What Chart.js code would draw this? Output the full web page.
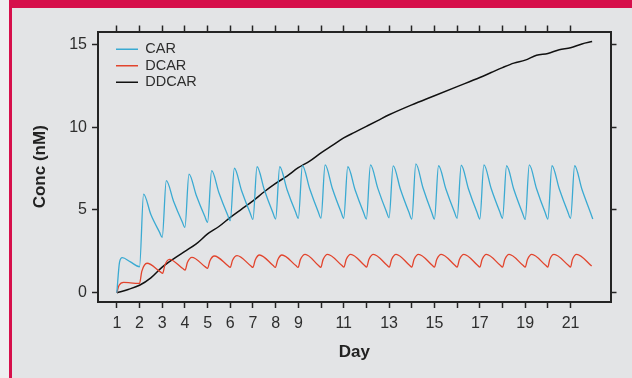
<!DOCTYPE html>
<html>
<head>
<meta charset="utf-8">
<script src="https://cdn.jsdelivr.net/npm/chart.js@4.4.0/dist/chart.umd.min.js"></script>
<style>
    body { margin: 0; background: #f1f1f2; }
    #panel { position: absolute; left: 0; top: 0; width: 632px; height: 378px; background: #e3e4e6; overflow: hidden; }
    #bordeBlanco { position: absolute; left: 0; top: 0; width: 9px; height: 378px; background: #eeeef0; }
    #bordeIzq { position: absolute; left: 9px; top: 0; width: 3px; height: 378px; background: #d60f4b; }
    #bandaSup { position: absolute; left: 9px; top: 0; width: 623px; height: 8px; background: #d60f4b; }
    #contenedor { position: absolute; left: 0; top: 0; width: 632px; height: 378px; }
</style>
</head>
<body>
<div id="panel">
    <div id="bordeBlanco"></div>
    <div id="bordeIzq"></div>
    <div id="bandaSup"></div>
    <div id="contenedor"><canvas id="miGrafico"></canvas></div>
</div>
<script>
// Datos
const diasCAR = [1, 1.12, 1.24, 1.6, 2,
    2.18, 2.5, 2.88, 3, 3.18, 3.5, 3.88, 4, 4.18, 4.5, 4.88, 5,
    5.18, 5.5, 5.88, 6, 6.18, 6.5, 6.88, 7, 7.18, 7.5, 7.88, 8,
    8.18, 8.5, 8.88, 9, 9.18, 9.5, 9.88, 10, 10.18, 10.5, 10.88, 11,
    11.18, 11.5, 11.88, 12, 12.18, 12.5, 12.88, 13, 13.18, 13.5, 13.88, 14,
    14.18, 14.5, 14.88, 15, 15.18, 15.5, 15.88, 16, 16.18, 16.5, 16.88, 17,
    17.18, 17.5, 17.88, 18, 18.18, 18.5, 18.88, 19, 19.18, 19.5, 19.88, 20,
    20.18, 20.5, 20.88, 21, 21.18, 21.5, 21.88, 21.98];
const concCAR = [0, 1.85, 2.12, 1.86, 1.57,
    5.96, 4.72, 3.66, 3.35, 6.77, 5.53, 4.29, 3.95, 7.17, 5.89, 4.60, 4.25,
    7.37, 6.04, 4.71, 4.35, 7.52, 6.16, 4.80, 4.43, 7.61, 6.22, 4.83, 4.45,
    7.61, 6.24, 4.87, 4.50, 7.67, 6.28, 4.88, 4.50, 7.72, 6.30, 4.89, 4.50,
    7.61, 6.22, 4.83, 4.45, 7.72, 6.32, 4.91, 4.53, 7.66, 6.25, 4.84, 4.45,
    7.78, 6.31, 4.85, 4.45, 7.67, 6.28, 4.88, 4.50, 7.70, 6.27, 4.84, 4.45,
    7.72, 6.30, 4.89, 4.50, 7.67, 6.24, 4.82, 4.43, 7.72, 6.28, 4.84, 4.45,
    7.67, 6.28, 4.88, 4.50, 7.67, 6.25, 4.83, 4.45];

const diasDCAR = [1, 1.1, 1.3, 1.6, 1.9, 2,
    2.1, 2.33, 2.92, 3.02, 3.12, 3.32, 3.91, 4.01, 4.11, 4.31, 4.9, 5.0,
    5.1, 5.3, 5.9, 6.0, 6.1, 6.3, 6.9, 7.0, 7.1, 7.29, 7.89, 7.99,
    8.09, 8.28, 8.89, 8.99, 9.09, 9.3, 9.89, 9.99, 10.09, 10.29, 10.91, 11.01,
    11.11, 11.31, 11.91, 12.01, 12.11, 12.31, 12.91, 13.01, 13.11, 13.31, 13.9, 14.0,
    14.1, 14.3, 14.9, 15.0, 15.1, 15.3, 15.9, 16.0, 16.1, 16.3, 16.9, 17.0,
    17.1, 17.29, 17.9, 18.0, 18.1, 18.29, 18.9, 19.0, 19.1, 19.29, 19.9, 20.0,
    20.08, 20.27, 20.9, 21.0, 21.08, 21.27, 21.93];
const concDCAR = [0, 0.45, 0.63, 0.60, 0.56, 0.56,
    1.29, 1.78, 1.26, 1.17, 1.68, 2.02, 1.46, 1.37, 1.83, 2.14, 1.56, 1.47,
    1.92, 2.22, 1.63, 1.53, 1.96, 2.24, 1.63, 1.53, 1.98, 2.28, 1.64, 1.53,
    1.98, 2.28, 1.64, 1.53, 2.00, 2.32, 1.64, 1.53, 2.00, 2.32, 1.66, 1.55,
    2.01, 2.32, 1.66, 1.55, 2.01, 2.32, 1.66, 1.55, 2.01, 2.32, 1.66, 1.55,
    2.01, 2.32, 1.66, 1.55, 2.01, 2.32, 1.66, 1.55, 2.01, 2.32, 1.66, 1.55,
    2.01, 2.32, 1.66, 1.55, 2.01, 2.32, 1.66, 1.55, 2.01, 2.32, 1.66, 1.55,
    2.00, 2.32, 1.66, 1.55, 2.00, 2.32, 1.61];

const diasDDCAR = [1, 1.5, 2, 2.5, 3, 3.5, 4, 4.5, 5, 5.5, 6, 6.5, 7, 7.5, 8, 8.5, 9, 9.5,
    10, 10.5, 11, 11.5, 12, 12.5, 13, 14, 15, 16, 17, 17.5, 18, 18.5, 19, 19.5,
    20, 20.5, 21, 21.5, 21.95];
const concDDCAR = [0, 0.2, 0.45, 0.9, 1.55, 2.05, 2.5, 2.95, 3.55, 4.0, 4.55, 5.05, 5.55, 6.1, 6.6, 7.05, 7.55, 7.95,
    8.45, 8.9, 9.35, 9.7, 10.05, 10.4, 10.75, 11.35, 11.9, 12.45, 13.0, 13.3, 13.6, 13.87, 14.05, 14.35,
    14.45, 14.68, 14.8, 15.03, 15.17];

const ticksDia = [1, 2, 3, 4, 5, 6, 7, 8, 9, 10, 11, 12, 13, 14, 15, 16, 17, 18, 19, 20, 21];
const etiquetasDia = [1, 2, 3, 4, 5, 6, 7, 8, 9, 11, 13, 15, 17, 19, 21];
const ticksConc = [0, 5, 10, 15];

const puntos = (xs, ys) => xs.map((x, i) => ({ x: x, y: ys[i] }));
const colorEje = '#242424';
const colorTexto = '#2e2e2e';
const fuente = 'Liberation Sans, Arial, sans-serif';

// Ejes con marcas hacia afuera
const ejeMarcas = (posicion, min, max, valores, medida) => ({
    type: 'linear',
    position: posicion,
    min: min,
    max: max,
    afterBuildTicks: eje => { eje.ticks = valores.map(v => ({ value: v })); },
    afterFit: eje => {
        if (posicion === 'top' || posicion === 'bottom') eje.height = medida;
        else eje.width = medida;
    },
    grid: { drawOnChartArea: false, tickLength: 6, tickWidth: 1.5, tickColor: colorEje },
    border: { color: colorEje, width: 2 },
    ticks: { display: false }
});

const ejeX = ejeMarcas('bottom', 0.17, 22.76, ticksDia, 76);
ejeX.ticks = {
    display: true, autoSkip: false, maxRotation: 0, padding: 6, color: colorTexto,
    font: { family: fuente, size: 16 },
    callback: v => etiquetasDia.includes(v) ? String(v) : ''
};
ejeX.title = { display: true, text: 'Day', color: '#222', font: { family: fuente, size: 17, weight: 'bold' }, padding: { top: 0, bottom: 15 } };

const ejeY = ejeMarcas('left', -0.56, 15.78, ticksConc, 98);
ejeY.ticks = { display: true, padding: 5, color: colorTexto, font: { family: fuente, size: 16 } };
ejeY.title = { display: true, text: 'Conc (nM)', color: '#222', font: { family: fuente, size: 17, weight: 'bold' }, padding: { top: 30, bottom: 0 } };

// Mover la leyenda dentro del area del grafico
const moverLeyenda = {
    id: 'moverLeyenda',
    afterLayout(chart) {
        chart.legend.left = chart.chartArea.left + 16;
        chart.legend.top = chart.chartArea.top + 8.5;
    }
};

const ctx = document.getElementById('miGrafico').getContext('2d');
new Chart(ctx, {
    type: 'line',
    data: {
        datasets: [{
            label: 'CAR',
            data: puntos(diasCAR, concCAR),
            borderColor: '#3aaad2',
            backgroundColor: '#3aaad2',
            borderWidth: 1.3,
            cubicInterpolationMode: 'monotone'
        }, {
            label: 'DCAR',
            data: puntos(diasDCAR, concDCAR),
            borderColor: '#e2442d',
            backgroundColor: '#e2442d',
            borderWidth: 1.3,
            cubicInterpolationMode: 'monotone'
        }, {
            label: 'DDCAR',
            data: puntos(diasDDCAR, concDDCAR),
            borderColor: '#111111',
            backgroundColor: '#111111',
            borderWidth: 1.5,
            cubicInterpolationMode: 'monotone'
        }]
    },
    options: {
        animation: false,
        responsive: true,
        maintainAspectRatio: false,
        layout: { padding: 0 },
        elements: { point: { radius: 0 } },
        plugins: {
            tooltip: { enabled: false },
            legend: {
                position: 'chartArea',
                align: 'start',
                labels: { boxWidth: 22, boxHeight: 0, padding: 2, color: colorTexto, font: { family: fuente, size: 14.5 } }
            }
        },
        scales: {
            x: ejeX,
            x2: ejeMarcas('top', 0.17, 22.76, ticksDia, 31.5),
            y: ejeY,
            y2: ejeMarcas('right', -0.56, 15.78, ticksConc, 21.5)
        }
    },
    plugins: [moverLeyenda]
});
</script>
</body>
</html>
